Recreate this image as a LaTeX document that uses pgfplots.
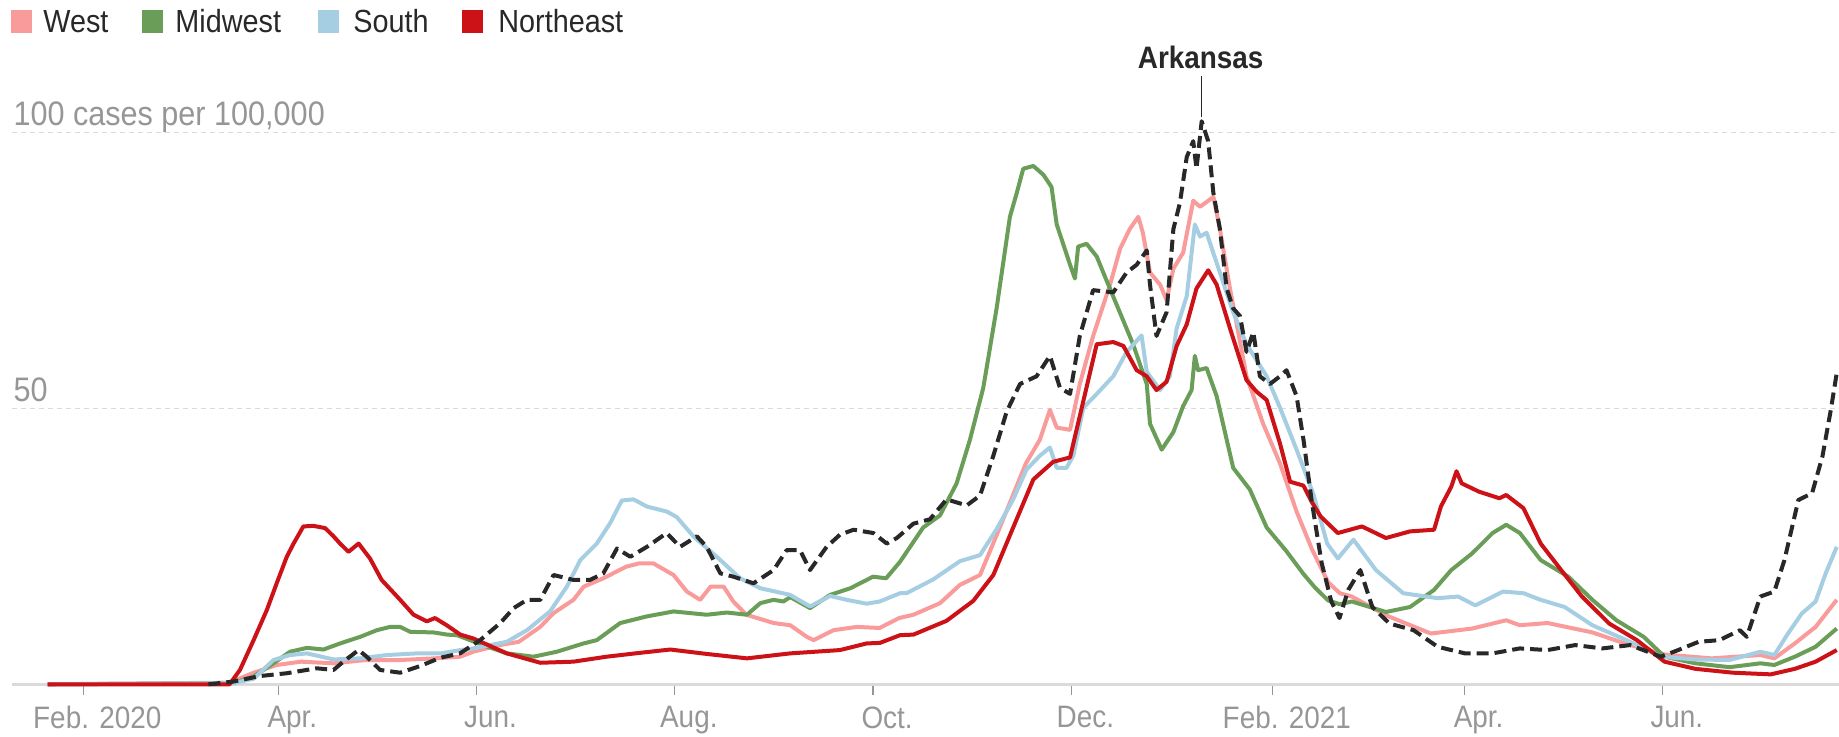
\documentclass[border=0pt]{standalone}
\usepackage{fontspec}
\setmainfont{Liberation Sans}[FakeStretch=0.9]
\usepackage{pgfplots}
\pgfplotsset{compat=1.18}
\definecolor{westc}{RGB}{250,155,155}
\definecolor{midc}{RGB}{106,158,88}
\definecolor{southc}{RGB}{166,206,227}
\definecolor{nec}{RGB}{204,17,23}
\definecolor{arkc}{RGB}{40,40,40}
\definecolor{gridc}{RGB}{218,218,218}
\definecolor{labc}{RGB}{150,150,150}
\definecolor{txtc}{RGB}{40,40,40}
\begin{document}
\begin{tikzpicture}
\useasboundingbox (0,0) rectangle (919.5pt,368.5pt);
\begin{axis}[
  at={(6pt,26.35pt)}, anchor=south west,
  width=913.5pt, height=303.6pt, scale only axis,
  xmin=-21.94, xmax=540.2, ymin=0, ymax=110,
  clip=false,
  axis x line*=bottom, axis y line*=left,
  x axis line style={-, draw=gridc, line width=1.4pt},
  y axis line style={draw=none},
  ytick={50,100}, yticklabels={}, ytick style={draw=none},
  ymajorgrids, grid style={draw=gridc, line width=0.6pt, dash pattern=on 2.5pt off 2pt},
  xtick={0,60,121,182,243,304,366,425,486},
  xticklabels={Feb. 2020,Apr.,Jun.,Aug.,Oct.,Dec.,Feb. 2021,Apr.,Jun.},
  tick align=outside, major tick length=5.5pt,
  xtick style={draw=labc, line width=0.6pt},
  xticklabel style={font=\fontsize{15.5}{18}\selectfont, text=labc, xshift=7pt, anchor=north, yshift=-2pt},
  every axis plot/.append style={line width=2pt, line join=round},
]
\addplot[westc] coordinates {(-11,0)(45,0.3)(52,2.0)(59.5,3.5)(67,4.1)(77,3.8)(87,4.4)(97.5,4.4)(108,4.7)(116,5.0)(120,5.9)(128,7.1)(134,7.7)(140.6,10.4)(144.7,12.9)(150.8,15.3)(154,17.7)(160,19.2)(167,21.3)(171,21.9)(175.4,21.9)(181.6,19.8)(185.7,16.8)(189.8,15.3)(193,17.7)(197,17.7)(200,15)(204,12.6)(212.4,11.1)(217.5,10.7)(222.6,8.6)(224.7,8)(230.8,9.8)(238,10.4)(245,10.2)(251,12)(255.4,12.6)(263.6,14.7)(269.7,18)(275.9,19.8)(281,27)(286,34.2)(290,40)(294.3,44.3)(297.4,49.7)(299.5,46.5)(303.6,46.1)(306.6,54.4)(310.7,63.1)(315.9,72.4)(319,78.9)(322,82.5)(324.6,84.7)(326,81.8)(328.2,74.6)(331.3,72.4)(333.3,69.6)(335.4,75.3)(338.4,78.2)(341.5,87.6)(343.6,86.5)(347.7,88.3)(349.7,82.5)(352.8,71.7)(357.9,55.8)(363,47.2)(368.2,40)(373.3,31.3)(378,24.5)(383,18.5)(386.6,16.5)(390.3,15.9)(400.8,12.5)(414.6,9.2)(427.3,10.1)(437.8,11.6)(442,10.7)(450.5,11.1)(464.3,9.4)(474.8,7.3)(486.5,5.4)(501,4.7)(516,5.3)(520.3,4.7)(526.6,7.4)(533,10.4)(539.5,15.3)};
\addplot[midc] coordinates {(-11,0)(46,0.2)(52.4,1.4)(58.5,3.8)(63.6,5.9)(68.8,6.6)(73.9,6.3)(79,7.4)(85.2,8.6)(90.3,9.8)(94.4,10.4)(97.5,10.4)(100.6,9.5)(107.7,9.4)(112,9.0)(115,8.9)(123,7.1)(130.3,5.6)(138.5,5.0)(145.7,5.9)(153.9,7.4)(158,8.0)(165.2,11.1)(173.4,12.3)(181.6,13.2)(191.8,12.6)(198,13.0)(204.2,12.6)(208.3,14.7)(212.4,15.3)(215.4,15)(217.5,15.8)(223.6,13.8)(229.8,16.2)(236,17.4)(243,19.5)(247,19.2)(251.3,22.2)(258.4,28.4)(263.6,30.6)(268.7,36.4)(272.8,44.3)(276.9,53.7)(281,68.1)(285.1,84.7)(287.2,89)(289.2,93.4)(292.3,93.9)(295.4,92.3)(297.9,90.1)(299.5,83.3)(303.6,76)(305.1,73.5)(306.1,79.3)(308.7,79.8)(311.8,77.5)(314.8,73.2)(318.9,67.4)(323,61.6)(327.2,54.4)(328.2,47.2)(331.8,42.5)(335.4,45.7)(338.4,50.4)(341,53.3)(342,59.5)(343,56.9)(345.6,57.3)(348.7,52.2)(351.8,44.3)(353.8,39.2)(358.9,35.3)(364.1,28.4)(370.2,24.1)(375.4,20)(379,17.5)(383,15.2)(386.6,14.5)(390.3,15)(400.8,13.1)(408.2,14)(415.6,17.1)(420.9,20.7)(427.3,23.7)(433.6,27.4)(437.8,28.9)(442,27.4)(448.4,22.5)(456.9,19.5)(464.3,15.3)(471.7,11.6)(480.1,8.6)(486.5,5)(496,3.8)(506.5,3.1)(516,3.8)(520.3,3.5)(526.6,5)(533,6.8)(539.5,10.1)};
\addplot[southc] coordinates {(-11,0)(46,0.2)(52.4,1.0)(58.5,4.4)(63.6,5.3)(68.8,5.6)(77,4.5)(85.2,4.7)(93.4,5.3)(102.6,5.6)(110,5.6)(116,6.2)(120,6.5)(130.3,7.7)(136.5,9.8)(143.6,13.2)(148.8,17.7)(152.9,22.5)(158,25.5)(162.1,29.2)(165.7,33.3)(169.3,33.5)(173.4,32.2)(179.5,31.3)(182.6,30.3)(187.7,26.8)(194.9,23.1)(202.1,19.2)(208.3,17.4)(217.5,16.2)(223.6,14.1)(229.8,16)(234.9,15.3)(241,14.6)(245,15)(251.3,16.5)(253.3,16.5)(261.5,19)(269.7,22.3)(275.9,23.4)(281,28.1)(286.1,33.5)(290.2,38.9)(294.3,41.4)(297.4,42.9)(299.5,39.2)(302.5,39.2)(304.6,41.4)(307.7,50.1)(311.8,52.6)(316.9,55.8)(321,60.2)(325.6,63.2)(327.2,56.6)(331.3,53.3)(334.3,55.8)(336.4,64.5)(339.5,70.3)(342,83.3)(343.6,81.1)(345.6,81.8)(349.7,74.6)(353.8,67.4)(357.9,61.6)(364.1,55.8)(368.2,50.1)(373.3,42.5)(378.5,34.4)(382.7,25.5)(386,22.8)(390.8,26.2)(397.7,20.7)(406.1,16.5)(416.7,15.6)(423,15.9)(428.3,14.3)(436.8,16.8)(443.1,16.5)(448.4,15.3)(455.8,14)(464.3,10.7)(474.8,8)(485.4,5)(496,4.5)(506.5,4.4)(516,5.9)(520.3,5.3)(524.5,9.2)(528.7,12.8)(533,15)(536.1,20.1)(539.5,24.9)};
\addplot[nec] coordinates {(-11,0)(45,0)(48.2,2.6)(52.4,8)(56.5,13.5)(59.5,18.3)(62.6,23.1)(64.7,25.5)(67.7,28.6)(70.8,28.7)(74.4,28.3)(77,26.8)(79,25.5)(81.6,24)(84.7,25.5)(88.2,22.8)(91.8,18.9)(97.5,15.3)(101.6,12.6)(105.7,11.4)(108.2,12)(111.8,10.7)(116,9)(120,8.3)(130.3,5.6)(140.6,3.9)(150.8,4.1)(161,5.0)(171.3,5.7)(180.6,6.3)(191.8,5.5)(204.2,4.7)(217.5,5.6)(232.8,6.2)(241,7.4)(245.1,7.5)(251.3,8.9)(255.4,9)(265.6,11.5)(273.8,15.1)(280,19.8)(286.1,28.4)(292.3,37.1)(298.4,40.3)(303.6,41.1)(306.6,48.6)(311.8,61.6)(316.9,62)(320,61.3)(324.1,56.9)(327.2,55.8)(330.2,53.3)(333.3,54.8)(336.4,61.3)(339.5,65.2)(342.5,71.7)(346.1,75)(348.7,72.4)(352.8,64.5)(357.9,55.1)(361,53)(364.1,51.5)(368.2,43.6)(371.3,36.7)(375.4,36)(378,33)(380.7,30.4)(386,27.4)(393.4,28.6)(400.8,26.5)(408.2,27.7)(415.6,28)(417.7,32.2)(420.9,35.8)(422.5,38.6)(424.1,36.4)(429.4,34.9)(435.7,33.7)(437.8,34.3)(443.1,31.9)(448.4,25.5)(454.7,20.7)(461.1,15.9)(469.5,11)(478,8)(486.5,4.1)(496,2.8)(507.6,2.1)(519.2,1.8)(526.6,2.8)(533,4.1)(539.5,6.2)};
\addplot[arkc, line width=2pt, dash pattern=on 6pt off 3pt] coordinates {(38.5,0)(46.2,0.5)(54.4,1.5)(62.6,2)(71.8,2.9)(77,2.6)(80,4.1)(84.7,6.2)(87.2,5.0)(91.3,2.6)(97.5,2.1)(103.6,3.3)(109.8,4.8)(115.9,5.6)(122.1,8)(128.3,11.1)(132.4,13.8)(136.5,15.3)(140.6,15.3)(144.7,19.8)(150.8,18.9)(155.9,18.9)(160,20.1)(164.2,24.6)(168.3,23.1)(173.4,24.9)(179.5,27.4)(183.6,24.9)(188.8,26.8)(191.8,24.9)(196,20.1)(200,19.5)(206.2,18.3)(212.4,20.7)(216.4,24.3)(220.5,24.3)(223.6,20.7)(228.7,24.9)(232.8,27.1)(237,28)(243.1,27.4)(247.2,25.5)(250.3,26.5)(255.4,29.1)(260.5,29.9)(265.6,33.5)(271.8,32.4)(275.9,34.2)(280,41.4)(284.1,49.4)(288.2,54.4)(293.3,55.8)(297.4,59.5)(300.5,53.7)(303.6,52.6)(306.6,63.1)(310.7,71.4)(316.9,71)(321,74.6)(324.1,76)(327.2,78.6)(328.2,72.4)(330.2,63.1)(333.3,67.4)(335.4,82.5)(337.4,87.2)(339.5,95.5)(341.5,98.4)(342.5,93.4)(344.1,102)(346.1,98.4)(347.7,89)(349.7,82.5)(351.8,71.7)(353.8,68.1)(355.9,66.7)(357.9,60.2)(360,63.8)(362,55.8)(365.1,54.4)(368.2,55.8)(370.2,56.9)(373.3,52.2)(375.5,44)(378,33)(381,22)(384,15)(386.5,12)(389.2,17.1)(392.9,20.7)(396.6,14)(401.9,11)(409.3,9.8)(416.7,6.8)(425.1,5.6)(433.6,5.6)(442,6.5)(450.5,6.2)(459,7.1)(467.4,6.5)(475.9,7.1)(485.4,5)(490.7,6.2)(497,7.7)(503.4,8)(509.7,9.8)(511.8,8.6)(516,15.9)(520.3,16.8)(523.4,22.5)(527.7,33.4)(531.9,34.6)(535.1,41.3)(537.7,49.8)(539.5,56.4)};
\node[anchor=base west, inner sep=0, text=labc, font=\fontsize{17}{20}\selectfont] at (axis cs:-21.6,101.2) {100 cases per 100,000};
\node[anchor=base west, inner sep=0, text=labc, font=\fontsize{17}{20}\selectfont] at (axis cs:-21.6,51.3) {50};
\node[anchor=base, inner sep=0, text=txtc, font=\bfseries\fontsize{15.5}{18}\selectfont] at (axis cs:343.8,111.5) {Arkansas};
\draw[txtc, line width=0.7pt] (axis cs:344.1,110.2) -- (axis cs:344.1,102.8);
\end{axis}
\fill[westc] (5.5pt,352pt) rectangle ++(10.5pt,11.5pt);
\fill[midc] (71pt,352pt) rectangle ++(10.5pt,11.5pt);
\fill[southc] (159pt,352pt) rectangle ++(10.5pt,11.5pt);
\fill[nec] (231pt,352pt) rectangle ++(10.5pt,11.5pt);
\begin{scope}[every node/.style={anchor=base west, inner sep=0, text=txtc, font=\fontsize{16}{19}\selectfont}]
\node at (21.5pt,352pt) {West};
\node at (87.5pt,352pt) {Midwest};
\node at (176.5pt,352pt) {South};
\node at (249pt,352pt) {Northeast};
\end{scope}
\end{tikzpicture}
\end{document}
